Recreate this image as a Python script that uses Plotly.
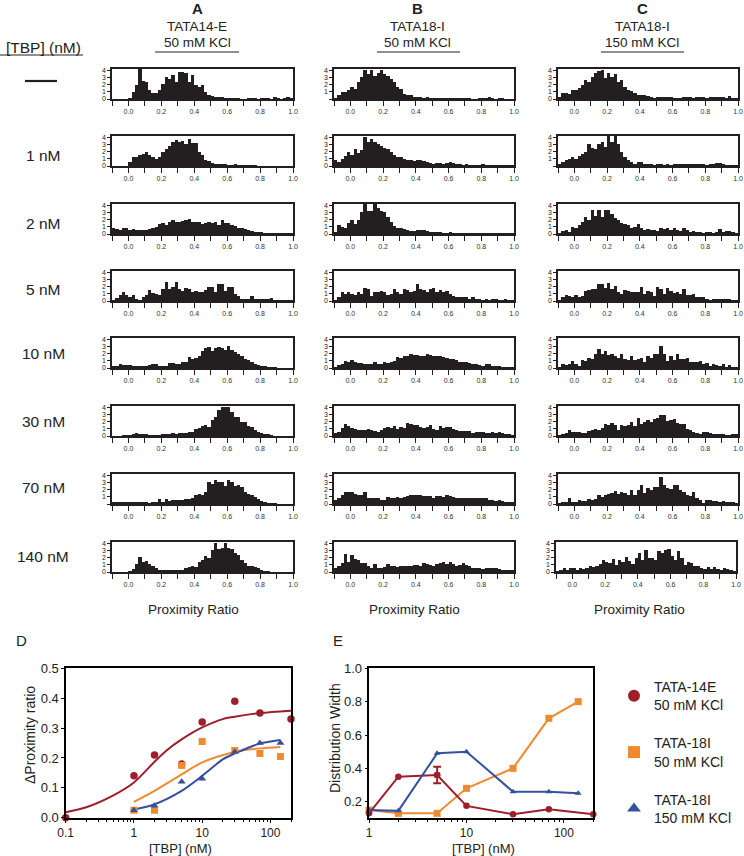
import plotly.graph_objects as go

W, H = 744, 856
FONT = "Liberation Sans"
INK = "#231F20"
RED, ORANGE, BLUE = "#9E1F2A", "#F08A2E", "#34509E"

bin_edges = [round(-0.10 + 0.02 * i, 2) for i in range(55)]

A1 = [0,0,0,0,0, .1,1.0,1.9,4.2,2.5, 2.3,1.3,.9,.8,1.3, 2.1,3.0,2.8,3.4,2.4, 3.8,3.8,3.6,2.3,3.4, 2.0,1.6,1.9,1.0,.6, .4,.3,.3,.2,.1, .1,.1,.1,.1,0, 0,.05,.05,.05,0, .05,.05,.05,0,.3, .1,0,.1,.3,.05]
A2 = [0,0,0,0,0, .5,1.2,1.3,1.5,1.6, 2.0,1.5,1.2,1.0,1.2, 1.9,2.3,2.8,3.4,3.6, 3.3,3.5,3.0,3.7,3.2, 3.2,2.0,1.5,.9,.7, .4,.3,.3,.2,.2, .1,.1,.2,.1,.1, .1,.1,.1,.05,0, 0,0,0,0,0, 0,0,0,0,0]
A3 = [.8,.7,.6,.9,.8, .6,.7,.6,.5,.5, .6,.7,.8,1.0,1.4, 1.5,1.3,1.6,1.9,1.7, 1.7,1.8,1.9,2.1,1.6, 1.6,1.7,1.4,1.5,1.6, 1.5,1.7,1.3,1.9,1.5, 1.5,1.2,1.1,.9,.8, .7,.5,.4,.3,.3, .2,.1,.1,.1,.1, .1,.1,.1,.1,.1]
A4 = [.1,.4,.9,1.3,.8, .5,.8,.3,.1,.5, .9,1.5,1.1,1.0,.8, 1.7,2.6,1.6,2.0,2.7, 1.7,1.4,1.8,1.6,1.2, 1.4,1.3,1.3,1.5,1.9, 2.0,1.3,2.4,2.3,1.4, 2.0,1.9,1.0,.7,.3, .3,.3,.7,.3,.2, .2,.2,.3,.4,.1, .05,.1,.05,.05,.05]
A5 = [.2,.3,.5,.4,.4, .4,.3,.3,.2,.3, .3,.4,.5,.5,.2, .3,.3,.7,.7,.6, .6,.9,.9,1.5,1.3, 1.4,1.7,2.4,2.8,2.9, 2.3,2.8,2.9,2.8,2.5, 3.0,2.5,2.2,2.0,1.6, 1.2,1.1,.9,.5,.4, .2,.15,.1,.05,.05, 0,0,0,0,0]
A6 = [0,0,0,.05,.05, .1,.3,.4,.3,.3, .25,.1,.1,.1,.1, .15,.2,.3,.4,.3, .4,.4,.4,.5,.6, 1.0,1.1,1.4,1.5,1.3, 2.2,2.6,3.6,4.1,4.1, 4.1,3.4,2.6,2.6,2.0, 1.9,1.4,1.2,.8,.5, .4,.3,.2,.05,0, 0,0,0,0,0]
A7 = [.2,.2,.3,.3,.2, .2,.2,.2,.3,.2, .2,.1,.2,.3,.7, .3,.7,.4,.6,.5, .6,.6,.7,.7,.9, 1.3,1.4,1.3,1.7,3.0, 2.8,3.3,3.0,3.0,2.5, 3.4,3.1,2.5,2.6,2.4, 1.6,1.4,1.3,1.0,.7, .4,.3,.1,.1,.05, 0,0,0,0,0]
A8 = [0,0,0,0,0, .05,.4,1.1,2.1,1.4, 1.5,1.1,.8,.5,.3, .3,.2,.3,.3,.2, .3,.3,.5,.7,.8, .7,1.4,1.6,2.2,2.0, 3.1,4.1,3.2,3.4,4.1, 3.3,3.2,2.6,2.3,1.7, 1.2,.9,.8,.7,.6, .2,.1,.05,0,0, 0,0,0,0,0]

B1 = [.1,.6,1,1,1.3, 1.7,1.4,2.3,3.0,4.1, 3.5,4.1,3.2,3.6,4.1, 3.5,3.2,2.8,2.3,1.7, 1.4,.7,.5,.5,.3, .3,.2,.1,.15,.1, .05,.05,.05,.05,.05, .05,.05,.05,.05,.1, .05,.1,0,0,.05, .05,.1,.2,.1,0, .05,.05,0,0,0]
B2 = [.8,.6,1,1.4,2.0, 1.5,2.4,1.8,2.2,4.1, 3.3,3.7,3.4,3.0,2.8, 2.5,2.3,1.9,1.5,1.3, 1.2,1.0,.9,.8,.7, .9,.8,.7,.6,.4, .3,.4,.4,.3,.4, .5,.4,.3,.2,.1, .2,.1,.1,.1,.1, .2,.1,.1,.1,.1, .1,.1,.1,.1,.1]
B3 = [.3,1.2,1,.9,1.5, 1.9,1.4,2.0,3.0,4.2, 3.2,3.2,4.2,3.6,3.2, 3.1,2.3,1.6,1.1,.9, .8,.7,.5,.4,.4, .6,.5,.5,.4,.3, .3,.3,.2,.1,.1, .2,.1,.05,.1,.1, .05,.05,.05,.1,.1, .05,.1,.1,.05,.05, .1,.05,.05,.05,.05]
B4 = [.1,.5,1.2,1,1.2, 1,.9,1.3,1.0,1.8, 1.7,.7,1.3,1.3,1.4, 1.3,.9,1.0,1.7,1.3, 1.0,1.7,1.5,1.3,1.4, 2.4,1.7,1.5,1.2,1.7, 1.8,1.3,1.5,1.3,1.4, 1.0,.7,.6,.5,.5, .5,.3,.5,.2,.2, .1,.3,.1,.3,.3, .1,.1,.2,.1,.05]
B5 = [.1,.4,.6,1.0,.9, 1.1,.8,.7,.7,.6, .6,.6,.8,.6,.5, .8,.7,.9,1.0,1.5, 1.4,1.6,1.7,1.9,1.8, 1.8,1.7,1.7,2.0,1.8, 1.6,1.7,1.6,1.5,1.4, 1.3,1.2,1.1,.9,.8, .8,.7,.6,.5,.4, .3,.5,.5,.3,.2, .2,.1,.05,.05,.05]
B6 = [.4,.5,1.1,1.7,1.4, 1.1,1.0,.9,.9,.9, 1.0,.9,.7,.6,.9, 1.1,1.2,1.1,1.4,1.0, 1.2,1.1,1.8,1.6,1.5, 1.5,1.3,1.1,1.2,1.5, 1.0,.9,1.4,1.1,1.2, 1.3,1.0,.9,.7,.7, .7,.7,.4,.5,.6, .5,.4,.4,.5,.4, .5,.4,.3,.2,.1]
B7 = [.5,.8,1.2,1.6,1.7, 1.6,1.4,1.2,1.3,1.6, .9,.9,.9,.9,.6, .5,1.0,.8,.9,1.0, .9,1.0,1.1,1.2,1.3, 1.3,1.2,1.1,1.1,1.1, .8,1.1,1.1,1.0,1.2, 1.1,1.0,.9,.8,.8, .8,.8,.9,.8,.8, .9,.8,.6,.5,.4, .5,.4,.3,.3,.3]
B8 = [.6,.9,1.3,2.5,1.4, 2.4,1.8,1.6,1.2,1.2, .9,.6,1.1,.6,.6, .7,1.1,.9,.8,.7, .8,.9,.8,.9,1.0, 1.0,.8,1.3,1.1,1.0, .8,1.1,1.3,1.4,1.1, 1.4,1.1,.9,1.0,1.3, 1.0,.9,.6,.5,.5, .4,.5,.6,.5,.5, .4,.3,.2,.2,.2]

C1 = [.3,.8,.9,.7,1.3, 1.3,1.5,1.9,2.7,2.4, 3.1,3.6,3.9,4.0,2.9, 3.6,3.0,3.5,2.4,2.7, 1.6,1.2,1.1,.9,.5, .6,.5,.4,.2,.1, .2,.2,.3,.2,.2, .1,.1,.1,.2,.2, .2,.1,.3,.2,.2, .1,.3,.3,.3,.2, .3,.1,.4,.1,.05]
C2 = [.2,.6,.9,1.0,1.3, 1.0,1.4,1.7,2.0,3.0, 2.5,2.4,3.0,3.3,2.6, 4.5,3.3,4.5,3.0,2.0, 1.3,.9,.6,.3,.5, .5,.3,.3,.2,.1, .2,.2,.1,.2,.1, .2,.3,.2,.2,.3, .2,.2,.2,.2,.2, .1,.3,.3,.4,.4, .3,.1,.1,.1,.05]
C3 = [.1,.4,.5,.2,1.0, .9,1.3,1.7,2.3,2.0, 3.4,2.5,3.3,2.4,3.3, 3.4,2.8,2.2,1.9,1.5, 1.4,1.3,.9,1.0,1.4, .8,.6,.7,.5,.6, .4,.9,.7,.9,.6, .8,.5,.4,.8,.5, .3,.4,.2,.3,.1, .2,.3,.1,.2,.7, .3,.4,.4,.2,.1]
C4 = [.1,.5,.9,.7,.5, .9,.6,.7,1.4,1.5, 1.6,1.7,2.3,2.3,1.8, 2.5,1.6,2.1,1.2,1.0, 1.5,1.4,1.3,1.2,1.3, 2.0,1.0,1.4,1.3,.7, 2.0,1.6,1.0,1.8,1.4, 1.1,1.3,1.0,1.6,.9, .8,1.0,.6,.6,.5, .2,.1,.2,.2,.2, .3,.2,.3,.1,.05]
C5 = [.05,.5,.4,.6,1.0, .6,.2,1.1,1.0,1.4, 1.2,2.0,2.6,2.0,2.4, 1.8,1.9,1.7,1.4,1.9, 1.3,1.1,1.7,1.1,1.3, 1.4,.8,1.6,1.4,1.9, 2.0,3.0,1.9,1.0,1.6, 1.1,2.0,1.3,1.3,1.4, .9,.9,.8,1.0,.5, .7,.2,.5,.4,.2, .5,.1,.4,.1,.05]
C6 = [.1,.3,.4,.8,.5, .5,.6,.4,.4,.7, .9,1.0,.9,1.1,1.7, 1.5,1.8,1.5,.9,1.5, 1.4,1.5,2.0,1.4,2.5, 1.6,1.9,2.2,1.9,2.4, 2.5,2.9,2.9,2.1,2.2, 2.3,1.8,1.6,1.7,1.0, .8,.6,.4,.3,.6, .5,.4,.3,.2,.2, .2,.1,.1,.2,.3]
C7 = [.1,.15,.2,.8,.3, .3,.5,.4,.4,.7, .5,.7,1.2,1.0,1.3, 1.4,1.5,1.8,1.4,1.6, 1.5,1.3,2.0,1.3,1.9, 2.7,1.5,2.2,2.0,2.3, 2.4,3.7,2.7,2.2,2.1, 2.6,2.6,1.9,1.6,1.2, 1.1,1.6,.8,.5,.1, .5,.5,.4,.4,.2, .4,.3,.3,.2,.1]
C8 = [.05,.15,.5,.3,.5, .5,.3,.5,.4,.5, .8,.7,.9,1.1,1.7, 1.4,1.2,1.8,1.0,1.6, 1.4,2.1,1.5,1.1,2.0, 2.6,1.7,3.0,2.0,1.9, 1.7,2.9,2.7,3.0,3.2, 2.2,1.6,2.9,1.9,1.0, 1.4,1.3,.8,.8,.6, .4,.7,.4,.7,.4, .3,.6,.4,.2,.1]

concentrations = ["—", "1 nM", "2 nM", "5 nM", "10 nM", "30 nM", "70 nM", "140 nM"]

D_x_red = [0.1, 1, 2, 5, 10, 30, 70, 200]
D_y_red = [0, .14, .21, .18, .32, .39, .35, .33]
D_x_orange = [1, 2, 5, 10, 30, 70, 140]
D_y_orange = [.025, .025, .175, .255, .225, .215, .205]
D_x_blue = [1, 2, 5, 10, 30, 70, 140]
D_y_blue = [.025, .04, .12, .13, .22, .25, .25]

fit_x_red = [.1, .2, .5, 1, 2, 3, 5, 10, 20, 30, 70, 200]
fit_y_red = [.018, .035, .075, .118, .187, .225, .262, .302, .330, .338, .35, .358]
fit_x_orange = [1, 2, 5, 10, 30, 70, 140]
fit_y_orange = [.053, .09, .145, .185, .22, .232, .237]
fit_x_blue = [1, 2, 5, 10, 20, 30, 70, 140]
fit_y_blue = [.027, .045, .09, .14, .195, .215, .248, .26]

E_x_red = [1, 2, 5, 10, 30, 70, 200]
E_y_red = [.13, .35, .36, .175, .125, .155, .125]
E_x_orange = [1, 2, 5, 10, 30, 70, 140]
E_y_orange = [.15, .13, .13, .28, .40, .70, .80]
E_x_blue = [1, 2, 5, 10, 30, 70, 140]
E_y_blue = [.15, .145, .49, .50, .26, .26, .25]
E_err_x = [5]
E_err_y = [.36]
E_err = [.05]

legend_names = ["TATA-14E<br>50 mM KCl", "TATA-18I<br>50 mM KCl", "TATA-18I<br>150 mM KCl"]

x_ticks = [round(-0.1 + 0.1 * i, 1) for i in range(12)]
x_labels = [f"{v:.1f}" if i % 2 == 1 else "" for i, v in enumerate(x_ticks)]

columns = [[A1, A2, A3, A4, A5, A6, A7, A8], [B1, B2, B3, B4, B5, B6, B7, B8], [C1, C2, C3, C4, C5, C6, C7, C8]]
col_px = [(112, 293), (334, 514), (558, 738)]
row_base_px = [99, 166, 234, 301, 368, 436, 504, 572]
no_zero_label = {(0, 6), (1, 0), (2, 1)}


def hdom(a, b):
    return [a / W, b / W]


def vdom(top, bottom):
    return [1 - bottom / H, 1 - top / H]


fig = go.Figure()
layout = {}
n = 0
for c, col in enumerate(columns):
    for r, vals in enumerate(col):
        n += 1
        xa, ya = f"x{n}", f"y{n}"
        fig.add_trace(go.Bar(x=[e + 0.01 for e in bin_edges], y=vals, width=0.02,
                             marker=dict(color=INK, line=dict(width=0)), xaxis=xa, yaxis=ya,
                             showlegend=False, hoverinfo="skip"))
        left, right = col_px[c]
        if c == 2 and r == 7:
            left, right = left - 2, right - 2
        base = row_base_px[r]
        ylab = ["" if (c, r) in no_zero_label else "0", "1", "2", "3", "4"]
        layout[f"xaxis{n}"] = dict(domain=hdom(left, right), range=[-0.1, 1.0], anchor=ya,
                                   tickmode="array", tickvals=x_ticks, ticktext=x_labels,
                                   ticks="outside", ticklen=5, tickwidth=1, tickcolor=INK,
                                   showgrid=False, zeroline=False, showline=True, linecolor=INK,
                                   linewidth=1.5, mirror=True, automargin=False,
                                   tickfont=dict(family=FONT, size=7, color="#333333"))
        layout[f"yaxis{n}"] = dict(domain=vdom(base - 30, base), range=[0, 4.17], anchor=xa,
                                   tickmode="array", tickvals=[0, 1, 2, 3, 4], ticktext=ylab,
                                   ticks="outside", ticklen=3, tickwidth=1, tickcolor=INK,
                                   showgrid=False, zeroline=False, showline=True, linecolor=INK,
                                   linewidth=1.5, mirror=True, automargin=False,
                                   tickfont=dict(family=FONT, size=7, color="#222222"))

# Panel D
nD = n + 1
xa, ya = f"x{nD}", f"y{nD}"
for fx, fy, color in [(fit_x_red, fit_y_red, RED), (fit_x_orange, fit_y_orange, ORANGE), (fit_x_blue, fit_y_blue, BLUE)]:
    fig.add_trace(go.Scatter(x=fx, y=fy, mode="lines", line=dict(color=color, width=2, shape="spline", smoothing=0.8),
                             xaxis=xa, yaxis=ya, showlegend=False, hoverinfo="skip"))
for px_, py_, color, sym, size, name in [
    (D_x_red, D_y_red, RED, "circle", 7.5, legend_names[0]),
    (D_x_orange, D_y_orange, ORANGE, "square", 7, legend_names[1]),
    (D_x_blue, D_y_blue, BLUE, "triangle-up", 7, legend_names[2]),
]:
    fig.add_trace(go.Scatter(x=px_, y=py_, mode="markers", marker=dict(color=color, symbol=sym, size=size, line=dict(width=0)),
                             xaxis=xa, yaxis=ya, name=name, legendgroup=name, cliponaxis=False, showlegend=True))

minor_d = [m * 10 ** e for e in (-1, 0, 1, 2) for m in range(2, 10) if m * 10 ** e <= 200]
layout[f"xaxis{nD}"] = dict(domain=hdom(65.7, 291), type="log", range=[-1, 2.30103], anchor=ya,
                            tickmode="array", tickvals=[.1, 1, 10, 100], ticktext=["0.1", "1", "10", "100"],
                            ticks="outside", ticklen=3.5, tickwidth=1.3, tickcolor="black",
                            minor=dict(ticks="outside", ticklen=2.5, tickwidth=1, tickcolor="black", tickmode="array", tickvals=minor_d),
                            showgrid=False, zeroline=False, showline=True, linecolor="black", linewidth=1.6, mirror=True,
                            automargin=False, tickfont=dict(family=FONT, size=12, color="#222222"))
layout[f"yaxis{nD}"] = dict(domain=vdom(668.3, 817.7), range=[0, 0.5], anchor=xa,
                            tickmode="array", tickvals=[0, .1, .2, .3, .4, .5], ticktext=["0.0", "0.1", "0.2", "0.3", "0.4", "0.5"],
                            ticks="outside", ticklen=2.5, tickwidth=1.3, tickcolor="black",
                            showgrid=False, zeroline=False, showline=True, linecolor="black", linewidth=1.6, mirror=True,
                            automargin=False, tickfont=dict(family=FONT, size=13, color="#222222"))

# Panel E
nE = nD + 1
xa, ya = f"x{nE}", f"y{nE}"
for ex, ey, color, sym, size in [
    (E_x_orange, E_y_orange, ORANGE, "square", 7),
    (E_x_red, E_y_red, RED, "circle", 6.5),
    (E_x_blue, E_y_blue, BLUE, "triangle-up", 6),
]:
    fig.add_trace(go.Scatter(x=ex, y=ey, mode="lines+markers", line=dict(color=color, width=2),
                             marker=dict(color=color, symbol=sym, size=size, line=dict(width=0)),
                             xaxis=xa, yaxis=ya, showlegend=False, cliponaxis=False))
fig.add_trace(go.Scatter(x=E_err_x, y=E_err_y, mode="markers", marker=dict(color=RED, size=6.5),
                         error_y=dict(type="data", array=E_err, color=RED, thickness=2, width=4),
                         xaxis=xa, yaxis=ya, showlegend=False))
minor_e = [m * 10 ** e for e in (0, 1, 2) for m in range(2, 10) if m * 10 ** e <= 200]
layout[f"xaxis{nE}"] = dict(domain=hdom(369, 593.3), type="log", range=[0, 2.30103], anchor=ya,
                            tickmode="array", tickvals=[1, 10, 100], ticktext=["1", "10", "100"],
                            ticks="outside", ticklen=3.5, tickwidth=1.3, tickcolor="black",
                            minor=dict(ticks="outside", ticklen=2.5, tickwidth=1, tickcolor="black", tickmode="array", tickvals=minor_e),
                            showgrid=False, zeroline=False, showline=True, linecolor="black", linewidth=1.6, mirror=True,
                            automargin=False, tickfont=dict(family=FONT, size=12, color="#222222"))
layout[f"yaxis{nE}"] = dict(domain=vdom(668.3, 817.7), range=[0.104, 1.0], anchor=xa,
                            tickmode="array", tickvals=[.2, .4, .6, .8, 1.0], ticktext=["0.2", "0.4", "0.6", "0.8", "1.0"],
                            ticks="outside", ticklen=2.5, tickwidth=1.3, tickcolor="black",
                            showgrid=False, zeroline=False, showline=True, linecolor="black", linewidth=1.6, mirror=True,
                            automargin=False, tickfont=dict(family=FONT, size=13, color="#222222"))


def txt(x, y, s, size=12, bold=False, angle=0):
    return dict(x=x / W, y=1 - y / H, xref="paper", yref="paper", text=f"<b>{s}</b>" if bold else s,
                showarrow=False, xanchor="center", yanchor="middle", textangle=angle,
                font=dict(family=FONT, size=size, color="#222222"))


anns = [txt(43, 47, "[TBP] (nM)", 15.5)]
for s, y in zip(concentrations[1:], [156, 223, 290, 354, 421, 488, 556]):
    anns.append(txt(43, y, s, 15.5))
for cx, a, t, k in [(197, "A", "TATA14-E", "50 mM KCl"), (418, "B", "TATA18-I", "50 mM KCl"), (642, "C", "TATA18-I", "150 mM KCl")]:
    anns += [txt(cx, 9, a, 15, True), txt(cx, 26, t, 13.5), txt(cx, 43, k, 13.5)]
for cx in [193, 415, 639]:
    anns.append(txt(cx, 609, "Proximity Ratio", 13.5))
anns += [txt(21, 640, "D", 15), txt(338, 640, "E", 15)]
anns += [txt(180, 848, "[TBP] (nM)", 13), txt(483, 848, "[TBP] (nM)", 13),
         txt(30, 735, "ΔProximity ratio", 14, angle=-90), txt(335, 738, "Distribution Width", 14, angle=-90)]


def rule(x0, x1, y, w=1):
    return dict(type="line", xref="paper", yref="paper", x0=x0 / W, x1=x1 / W,
                y0=1 - y / H, y1=1 - y / H, line=dict(color=INK, width=w))


shapes = [rule(0, 83, 55), rule(25, 57, 81, 2.2), rule(155, 239, 52), rule(377, 460, 52), rule(601, 684, 52)]

fig.update_layout(width=W, height=H, margin=dict(l=0, r=0, t=0, b=0), paper_bgcolor="white", plot_bgcolor="white",
                  barmode="overlay", bargap=0, annotations=anns, shapes=shapes,
                  legend=dict(x=614 / W, y=1 - 671 / H, xanchor="left", yanchor="top", traceorder="grouped",
                              tracegroupgap=17, itemsizing="constant", itemwidth=30, bgcolor="rgba(0,0,0,0)",
                              font=dict(family=FONT, size=14, color="#222222")),
                  **layout)
fig.write_html("out.html", config={"displayModeBar": False}, post_script="document.body.style.margin='0';")
